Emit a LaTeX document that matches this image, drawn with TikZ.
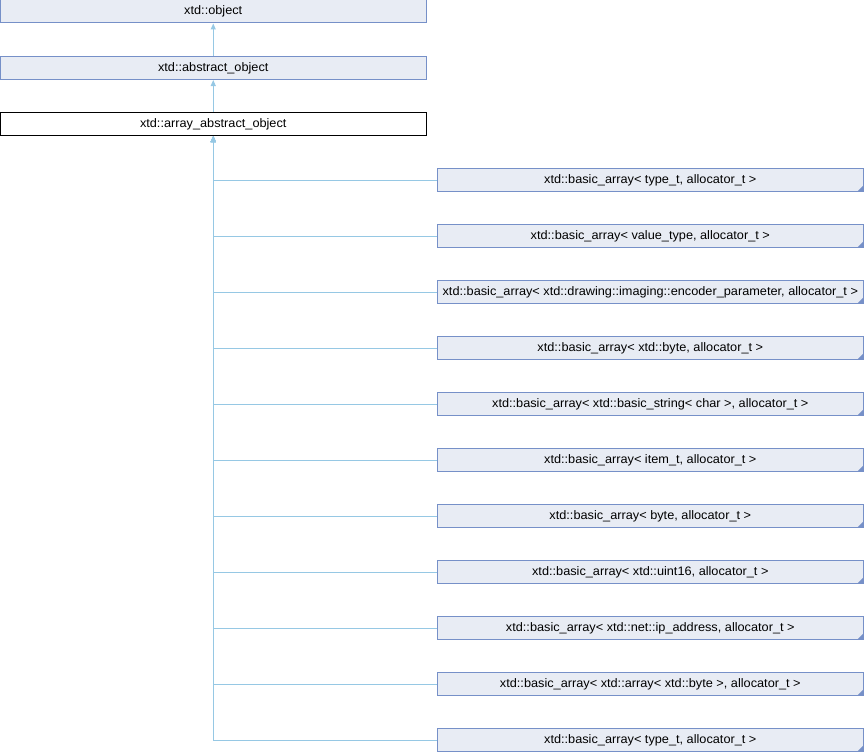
\documentclass[tikz,border=0pt]{standalone}
\usepackage{fontspec}
\setmainfont{Liberation Sans}[FakeStretch=1.035]
\usetikzlibrary{arrows.meta}
\definecolor{boxfill}{RGB}{232,236,244}
\definecolor{boxline}{RGB}{118,144,200}
\definecolor{edgecol}{RGB}{150,200,228}
\tikzset{
  cls/.style={draw=boxline, fill=boxfill, line width=1pt, minimum height=23pt, inner sep=0pt, font=\fontsize{12.3}{14}\selectfont},
  topcls/.style={cls, minimum width=426.5pt},
  curcls/.style={topcls, draw=black, fill=white},
  subcls/.style={cls, minimum width=426pt, path picture={\fill[boxline] (path picture bounding box.south east) -- ++(-6pt,0) -- ++(6pt,6pt) -- cycle;}},
  edge/.style={draw=edgecol, line width=1pt, -{Triangle[length=6pt,width=5pt]}}
}
\begin{document}
\begin{tikzpicture}[x=1pt,y=-1pt]
\useasboundingbox (0,0) rectangle (864,752);
\node[topcls] (o) at (213.25,11.5) {xtd::object};
\node[topcls] (ao) at (213.25,68) {xtd::abstract\_object};
\node[curcls] (aao) at (213.25,124) {xtd::array\_abstract\_object};
\node[subcls] (r1) at (650.3,180) {xtd::basic\_array< type\_t, allocator\_t >};
\node[subcls] (r2) at (650.3,236) {xtd::basic\_array< value\_type, allocator\_t >};
\node[subcls] (r3) at (650.3,292) {xtd::basic\_array< xtd::drawing::imaging::encoder\_parameter, allocator\_t >};
\node[subcls] (r4) at (650.3,348) {xtd::basic\_array< xtd::byte, allocator\_t >};
\node[subcls] (r5) at (650.3,404) {xtd::basic\_array< xtd::basic\_string< char >, allocator\_t >};
\node[subcls] (r6) at (650.3,460) {xtd::basic\_array< item\_t, allocator\_t >};
\node[subcls] (r7) at (650.3,516) {xtd::basic\_array< byte, allocator\_t >};
\node[subcls] (r8) at (650.3,572) {xtd::basic\_array< xtd::uint16, allocator\_t >};
\node[subcls] (r9) at (650.3,628) {xtd::basic\_array< xtd::net::ip\_address, allocator\_t >};
\node[subcls] (r10) at (650.3,684) {xtd::basic\_array< xtd::array< xtd::byte >, allocator\_t >};
\node[subcls] (r11) at (650.3,740) {xtd::basic\_array< type\_t, allocator\_t >};
\draw[edge] (ao.north) -- (o.south);
\draw[edge] (aao.north) -- (ao.south);
\foreach \r in {r1,r2,r3,r4,r5,r6,r7,r8,r9,r10,r11}
  \draw[edge] (\r.west) -| (aao.south);
\end{tikzpicture}
\end{document}
